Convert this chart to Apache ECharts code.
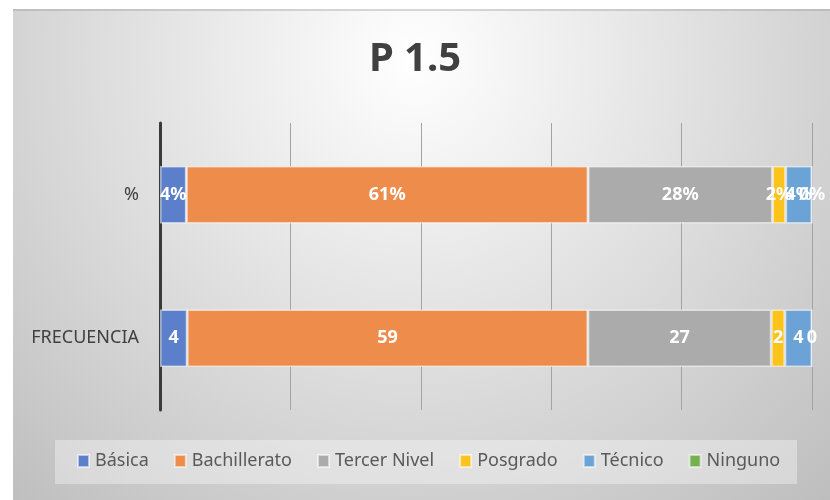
<!DOCTYPE html>
<html>
<head>
<meta charset="utf-8">
<script src="https://cdn.jsdelivr.net/npm/echarts@6/dist/echarts.min.js"></script>
<style>
html,body{margin:0;padding:0;background:#ffffff;}
#chart{width:830px;height:500px;}
</style>
</head>
<body>
<div id="chart"></div>
<script>
const titleText = 'P 1.5';
const categories = ['FRECUENCIA', '%'];
const levels = ['Básica', 'Bachillerato', 'Tercer Nivel', 'Posgrado', 'Técnico', 'Ninguno'];
const frecuencia = [4, 59, 27, 2, 4, 0];
const porcentaje = [4, 61, 28, 2, 4, 0];
const colors = ['#5B7FCA', '#EE8C4B', '#ABABAB', '#FBC31C', '#6CA3D7', '#77B050'];
const xTicks = [0, 20, 40, 60, 80, 100];

const sumF = frecuencia.reduce((a, b) => a + b, 0);
const sumP = porcentaje.reduce((a, b) => a + b, 0);

const font = 'Noto Sans';
const chart = echarts.init(document.getElementById('chart'), null, {renderer: 'canvas'});

const series = levels.map((name, i) => ({
  name: name,
  type: 'bar',
  stack: 'total',
  barCategoryGap: '60%',
  itemStyle: {color: colors[i], borderColor: 'rgba(255,255,255,0.55)', borderWidth: 1.5},
  label: {
    show: true,
    position: 'inside',
    color: '#ffffff',
    fontFamily: font,
    fontWeight: 'bold',
    fontSize: 18,
    formatter: function (p) {
      return p.dataIndex === 0 ? String(frecuencia[i]) : porcentaje[i] + '%';
    }
  },
  emphasis: {disabled: true},
  data: [frecuencia[i] / sumF * 100, porcentaje[i] / sumP * 100]
}));

chart.setOption({
  animation: false,
  backgroundColor: '#ffffff',
  color: colors,
  graphic: [
    {
      type: 'rect', z: -10, silent: true,
      shape: {x: 13, y: 9, width: 817, height: 491},
      style: {
        fill: new echarts.graphic.RadialGradient(0.49, 0.1, 1.25, [
          {offset: 0, color: '#ffffff'},
          {offset: 1, color: '#bdbdbd'}
        ])
      }
    },
    {
      type: 'rect', z: -9, silent: true,
      shape: {x: 13, y: 9, width: 817, height: 2},
      style: {fill: 'rgba(150,150,150,0.35)'}
    },
    {
      type: 'rect', z: -5, silent: true,
      shape: {x: 55, y: 440, width: 742, height: 44},
      style: {fill: 'rgba(255,255,255,0.35)'}
    }
  ],
  title: {
    text: titleText,
    left: 'center',
    top: 40,
    padding: 0,
    textStyle: {fontFamily: font, fontWeight: 'bold', fontSize: 40, color: '#404040'}
  },
  legend: {
    data: levels,
    left: 77,
    top: 452,
    padding: 0,
    itemGap: 25,
    itemWidth: 11,
    itemHeight: 12,
    icon: 'rect',
    selectedMode: false,
    textStyle: {fontFamily: font, fontSize: 18, color: '#595959', padding: [0, 0, 0, 1]}
  },
  grid: {left: 160, right: 18, top: 123, bottom: 90, containLabel: false},
  xAxis: {
    type: 'value',
    min: xTicks[0],
    max: xTicks[xTicks.length - 1],
    interval: xTicks[1] - xTicks[0],
    axisLabel: {show: false},
    axisLine: {show: false},
    axisTick: {show: false},
    splitLine: {show: true, lineStyle: {color: '#a3a3a3', width: 1}}
  },
  yAxis: {
    type: 'category',
    data: categories,
    axisLine: {show: true, lineStyle: {color: '#3a3a3a', width: 3}},
    axisTick: {show: false},
    axisLabel: {fontFamily: font, fontSize: 18, color: '#404040', margin: 21, padding: [2, 0, 0, 0]}
  },
  series: series
});
</script>
</body>
</html>
